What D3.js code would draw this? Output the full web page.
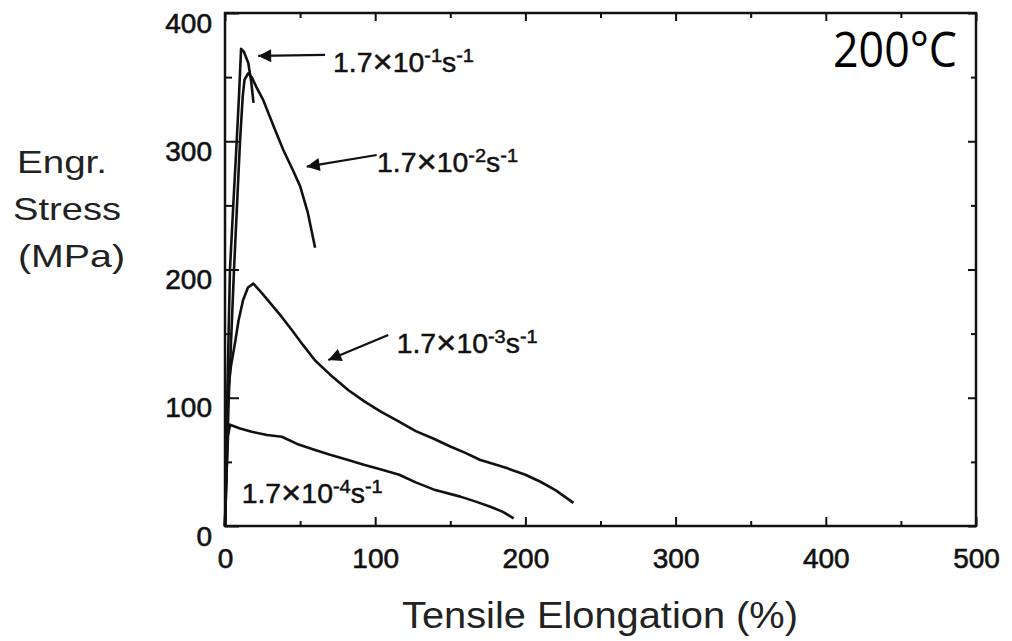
<!DOCTYPE html>
<html>
<head>
<meta charset="utf-8">
<script src="https://cdn.jsdelivr.net/npm/d3@7"></script>
<style>
  body { margin: 0; background: #fff; }
  svg { display: block; }
  .tick text { font-family: "Liberation Sans", Arial, sans-serif; font-size: 28px; fill: #111; stroke: #111; stroke-width: 0.6px; }
</style>
</head>
<body>
<div id="chart"></div>
<script>
var svgWidth = 1012;
var svgHeight = 641;

// tick values
var xTicks = [0, 100, 200, 300, 400, 500];
var xMinor = [50, 150, 250, 350, 450];
var yTicks = [0, 100, 200, 300, 400];
var yMinor = [50, 150, 250, 350];

// strain rates, one curve each  [elongation %, stress MPa]
var rate1 = [[0, 0], [1.5, 100], [3.3, 200], [5.5, 250], [7.8, 300], [9.3, 335], [10.7, 372],
  [12.5, 370], [15.5, 361], [17.5, 346], [19, 330]];
var rate2 = [[0, 0], [2.5, 100], [6, 200], [8, 250], [10, 300], [11.8, 335], [13, 348], [15.5, 353],
  [17.8, 350], [21, 342], [25.5, 332], [33.3, 309], [38.9, 293], [45, 278], [50, 265], [55, 245], [60, 217]];
var rate3 = [[0, 0], [1, 50], [2, 104], [4, 125], [6.7, 143], [9, 160], [12, 176], [15.3, 186], [18.9, 189],
  [25, 181], [30, 174], [37.8, 163], [45, 152], [52, 141], [60, 129], [70, 118], [82, 106], [93, 97],
  [104, 89], [115, 82], [127, 74], [139, 68], [150, 62], [160, 57], [170, 51.5], [180, 48], [188, 45],
  [200, 40], [210, 34.5], [220, 28], [232, 18]];
var rate4 = [[0, 0], [1, 40], [2, 70], [3.3, 79], [10, 76], [17.8, 73.5], [28, 71], [37.8, 69.6], [48, 64],
  [60, 59.3], [70, 55.5], [82, 51.5], [93, 47.5], [104, 44], [116, 40], [127, 34], [140, 28], [156.7, 22.9],
  [167, 19], [176.7, 15], [185, 11], [192.2, 6]];

// rate labels: exponent, text anchor and arrow (tail -> tip), in data units
var rateExp = ["-1", "-2", "-3", "-4"];
var labelPos = [[71.9, 354], [101.2, 276], [114.3, 134.7], [11.1, 17.7]];
var arrowPos = [[[66.6, 367.3], [22.1, 366.5]], [[101, 289.3], [54.4, 280.2]], [[108.7, 148.9], [68.8, 129.4]], null];

var plot = { left: 225, right: 976, top: 13, bottom: 526 };

var svg = d3.select("#chart")
  .append("svg")
  .attr("width", svgWidth)
  .attr("height", svgHeight);

svg.append("defs").append("marker")
  .attr("id", "head")
  .attr("viewBox", "0 0 10 10")
  .attr("refX", 10)
  .attr("refY", 5)
  .attr("markerWidth", 19)
  .attr("markerHeight", 13)
  .attr("markerUnits", "userSpaceOnUse")
  .attr("orient", "auto")
  .append("path")
  .attr("d", "M0,0 L10,5 L0,10 z")
  .attr("fill", "#111");

var x = d3.scaleLinear().domain([0, 500]).range([plot.left, plot.right]);
var y = d3.scaleLinear().domain([0, 400]).range([plot.bottom, plot.top]);

// Axes: ticks point inward
var bottom = svg.append("g")
  .attr("transform", `translate(0, ${plot.bottom})`)
  .call(d3.axisBottom(x).tickValues(xTicks).tickSize(-9).tickSizeOuter(0).tickPadding(22));
bottom.selectAll(".tick text").attr("dy", "0.71em");

svg.append("g")
  .attr("transform", `translate(0, ${plot.bottom})`)
  .call(d3.axisBottom(x).tickValues(xMinor).tickSize(-5).tickSizeOuter(0).tickFormat(""));

var left = svg.append("g")
  .attr("transform", `translate(${plot.left}, 0)`)
  .call(d3.axisLeft(y).tickValues(yTicks).tickSize(-14).tickSizeOuter(0).tickPadding(13));
left.selectAll(".tick text").attr("dy", "0.68em");

svg.append("g")
  .attr("transform", `translate(${plot.left}, 0)`)
  .call(d3.axisLeft(y).tickValues(yMinor).tickSize(-7).tickSizeOuter(0).tickFormat(""));

svg.append("g")
  .attr("transform", `translate(0, ${plot.top})`)
  .call(d3.axisTop(x).tickValues(xTicks).tickSize(-8).tickSizeOuter(0).tickFormat(""));
svg.append("g")
  .attr("transform", `translate(0, ${plot.top})`)
  .call(d3.axisTop(x).tickValues(xMinor).tickSize(-5).tickSizeOuter(0).tickFormat(""));
svg.append("g")
  .attr("transform", `translate(${plot.right}, 0)`)
  .call(d3.axisRight(y).tickValues(yTicks).tickSize(-8).tickSizeOuter(0).tickFormat(""));
svg.append("g")
  .attr("transform", `translate(${plot.right}, 0)`)
  .call(d3.axisRight(y).tickValues(yMinor).tickSize(-5).tickSizeOuter(0).tickFormat(""));

svg.selectAll(".domain").remove();
svg.selectAll(".tick line").attr("stroke", "#111").attr("stroke-width", 2);

// frame
svg.append("rect")
  .attr("x", x(0))
  .attr("y", y(400))
  .attr("width", x(500) - x(0))
  .attr("height", y(0) - y(400))
  .attr("fill", "none")
  .attr("stroke", "#111")
  .attr("stroke-width", 2.5);

// curves
var line = d3.line().x(d => x(d[0])).y(d => y(d[1]));
[rate1, rate2, rate3, rate4].forEach(function(series) {
  svg.append("path")
    .datum(series)
    .attr("d", line)
    .attr("fill", "none")
    .attr("stroke", "#111")
    .attr("stroke-width", 2.6)
    .attr("stroke-linejoin", "round");
});

// rate labels with arrows
rateExp.forEach(function(e, i) {
  var t = svg.append("text")
    .attr("x", x(labelPos[i][0]))
    .attr("y", y(labelPos[i][1]))
    .attr("font-family", "Liberation Sans, Arial, sans-serif")
    .attr("font-size", 27)
    .attr("fill", "#111")
    .attr("stroke", "#111")
    .attr("stroke-width", 0.5)
    .attr("textLength", 141)
    .attr("lengthAdjust", "spacingAndGlyphs");
  t.append("tspan").text("1.7");
  t.append("tspan").attr("font-size", 33).attr("dy", 1).text("\u00d7");
  t.append("tspan").attr("dy", -1).text("10");
  t.append("tspan").attr("dy", -10).attr("font-size", 19).text(e);
  t.append("tspan").attr("dy", 10).text("s");
  t.append("tspan").attr("dy", -10).attr("font-size", 19).text("-1");

  if (arrowPos[i]) {
    svg.append("line")
      .attr("x1", x(arrowPos[i][0][0]))
      .attr("y1", y(arrowPos[i][0][1]))
      .attr("x2", x(arrowPos[i][1][0]))
      .attr("y2", y(arrowPos[i][1][1]))
      .attr("stroke", "#111")
      .attr("stroke-width", 2.2)
      .attr("marker-end", "url(#head)");
  }
});

// temperature
svg.append("text")
  .attr("x", 833)
  .attr("y", 67)
  .attr("font-family", "Open Sans, sans-serif")
  .attr("font-size", 49)
  .attr("textLength", 124)
  .attr("lengthAdjust", "spacingAndGlyphs")
  .attr("fill", "#000")
  .text("200\u00b0C");

// axis titles
var yTitle = [["Engr.", 17, 173, 90], ["Stress", 13, 220, 108], ["(MPa)", 18, 267, 107]];
yTitle.forEach(function(r) {
  svg.append("text")
    .attr("x", r[1])
    .attr("y", r[2])
    .attr("font-family", "Liberation Sans, Arial, sans-serif")
    .attr("font-size", 32)
    .attr("textLength", r[3])
    .attr("lengthAdjust", "spacingAndGlyphs")
    .attr("fill", "#222")
    .text(r[0]);
});

svg.append("text")
  .attr("x", 402)
  .attr("y", 628)
  .attr("font-family", "Liberation Sans, Arial, sans-serif")
  .attr("font-size", 36)
  .attr("textLength", 396)
  .attr("lengthAdjust", "spacingAndGlyphs")
  .attr("fill", "#222")
  .text("Tensile Elongation (%)");
</script>
</body>
</html>
